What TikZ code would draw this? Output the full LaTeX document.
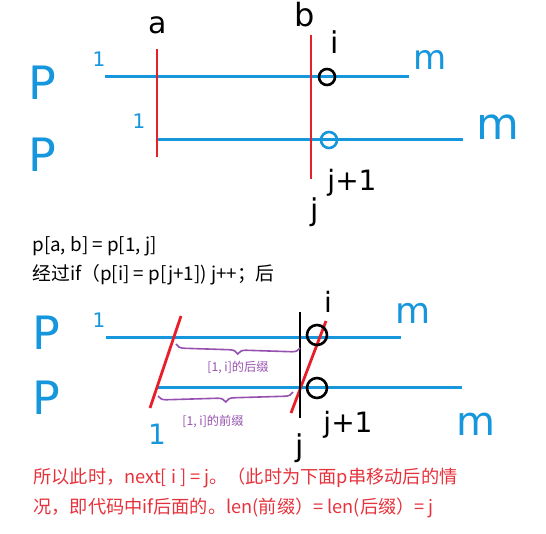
\documentclass[tikz,border=0pt]{standalone}
\usepackage{fontspec}
\setmainfont{Noto Sans CJK SC}
\newfontfamily\handfont{DejaVu Sans}
\usetikzlibrary{decorations.pathreplacing}
\definecolor{strblue}{RGB}{22,150,220}
\definecolor{cutred}{RGB}{232,30,40}
\definecolor{notered}{RGB}{230,50,60}
\definecolor{bracepurple}{RGB}{150,80,175}

\begin{document}
\begin{tikzpicture}[
    x=0.5pt, y=-0.5pt,
    strline/.style={draw=strblue, line width=1.5pt},
    cutline/.style={draw=cutred, line width=1.4pt},
    ring/.style={circle, draw, line width=1.3pt, minimum size=8pt, inner sep=0pt},
    hand/.style={font=\handfont\fontsize{#1}{#1}\selectfont, inner sep=0pt},
    bluehand/.style={hand=#1, text=strblue},
    sub/.style={decorate, decoration={brace, mirror, amplitude=4pt},
                draw=bracepurple, line width=0.8pt},
    subtxt/.style={font=\fontsize{6.1pt}{7pt}\selectfont, text=bracepurple},
    note/.style={anchor=west, inner sep=0pt, font=\fontsize{9.4pt}{10pt}\selectfont},
]
\useasboundingbox (0,0) rectangle (546,534);

% ---- first picture: p[a,b] = p[1,j]
\node[bluehand=23pt] (pA) at (42,83) {P};
\node[bluehand=23pt] (pB) at (42,155) {P};
\node[bluehand=10pt] (oneA) at (99,59) {1};
\node[bluehand=10pt] (oneB) at (139,121) {1};
\node[bluehand=17pt] (mA) at (430,60) {m};
\node[bluehand=22pt] (mB) at (498,127) {m};
\coordinate (sA) at (105,77);  \coordinate (eA) at (409,77);
\coordinate (sB) at (158,140); \coordinate (eB) at (463,140);
\draw[strline] (sA) -- (eA);
\draw[strline] (sB) -- (eB);
% the two cuts a and b
\node[hand=15pt] (a) at (158,25) {a};
\node[hand=16pt] (b) at (305,15) {b};
\coordinate (aT) at (157,49);  \coordinate (aB) at (157,157);
\coordinate (bT) at (311,35);  \coordinate (bB) at (311,179);
\draw[cutline] (aT) -- (aB);
\draw[cutline] (bT) -- (bB);
% i and j+1
\node[ring] (ci) at (327,77) {};
\node[ring, draw=strblue] (cj) at (329,140) {};
\node[hand=15pt] (iA) at (335,42) {i};
\node[hand=14pt] (jpA) at (352,183) {j+1};
\node[hand=15pt] (jA) at (315,212) {j};

% ---- text between
\node[note] (eq) at (32,246) {p[a, b] = p[1, j]};
\node[note] (step) at (32,275) {经过if（p[i] = p[j+1]) j++；后};

% ---- second picture: after j++
\node[bluehand=23pt] (pC) at (46,333) {P};
\node[bluehand=23pt] (pD) at (46,398) {P};
\node[bluehand=10pt] (oneC) at (99,320) {1};
\node[bluehand=14pt] (oneD) at (157,434) {1};
\node[bluehand=18pt] (mC) at (413,313) {m};
\node[bluehand=20pt] (mD) at (476,424) {m};
\coordinate (sC) at (106,337); \coordinate (eC) at (401,337);
\coordinate (sD) at (158,387); \coordinate (eD) at (462,387);
\draw[strline] (sC) -- (eC);
\draw[strline] (sD) -- (eD);
% slanted cuts and the position of j
\coordinate (lT) at (181,316); \coordinate (lB) at (150,408);
\coordinate (rT) at (326,321); \coordinate (rB) at (291,413);
\coordinate (jT) at (300,312); \coordinate (jB) at (300,418);
\draw[cutline] (lT) -- (lB);
\draw[cutline] (rT) -- (rB);
\draw[line width=1.4pt] (jT) -- (jB);
\node[ring, minimum size=10pt] (ci2) at (317,335) {};
\node[ring, minimum size=10pt] (cj2) at (317,388) {};
\node[hand=14pt] (iC) at (328,302) {i};
\node[hand=14pt] (jpC) at (348,425) {j+1};
\node[hand=15pt] (jC) at (300,448) {j};
% suffix / prefix braces
\coordinate (bsL) at (176,344); \coordinate (bsR) at (300,348);
\coordinate (bpL) at (158,396); \coordinate (bpR) at (293,392);
\draw[sub] (bsL) -- (bsR);
\draw[sub] (bpL) -- (bpR);
\node[subtxt] (suf) at (238,368) {[1, i]的后缀};
\node[subtxt] (pre) at (213,422) {[1, i]的前缀};

% ---- conclusion
\node[note, text=notered, font=\fontsize{9.1pt}{10pt}\selectfont] (res1) at (33,478)
     {所以此时，next[ i ] = j。（此时为下面p串移动后的情};
\node[note, text=notered, font=\fontsize{9.1pt}{10pt}\selectfont] (res2) at (33,508)
     {况，即代码中if后面的。len(前缀）= len(后缀）= j};
\end{tikzpicture}
\end{document}
